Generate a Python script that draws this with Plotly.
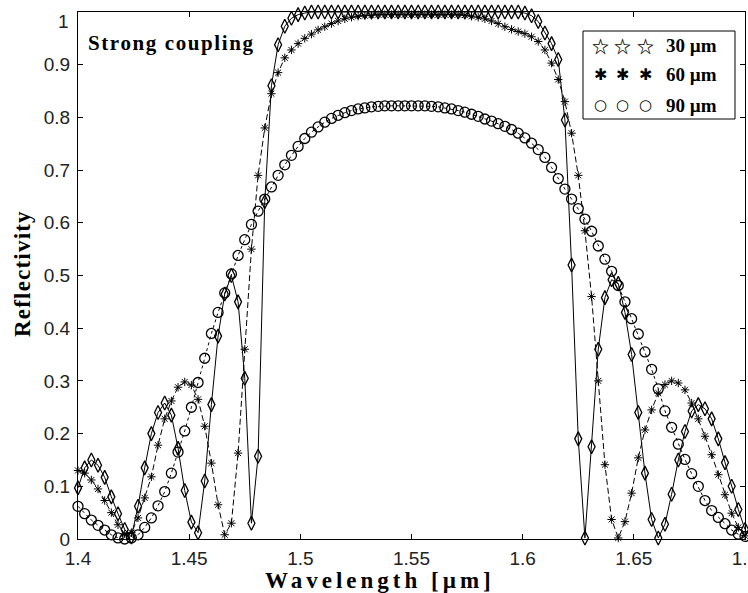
import plotly.graph_objects as go

wavelength = [
    1.400, 1.403, 1.406, 1.409, 1.412, 1.415, 1.418, 1.421, 1.424, 1.427,
    1.430, 1.433, 1.436, 1.439, 1.442, 1.445, 1.448, 1.451, 1.454, 1.457,
    1.460, 1.463, 1.466, 1.469, 1.472, 1.475, 1.478, 1.481, 1.484, 1.487,
    1.490, 1.493, 1.496, 1.499, 1.502, 1.505, 1.508, 1.511, 1.514, 1.517,
    1.520, 1.523, 1.526, 1.529, 1.532, 1.535, 1.538, 1.541, 1.544, 1.547,
    1.550, 1.553, 1.556, 1.559, 1.562, 1.565, 1.568, 1.571, 1.574, 1.577,
    1.580, 1.583, 1.586, 1.589, 1.592, 1.595, 1.598, 1.601, 1.604, 1.607,
    1.610, 1.613, 1.616, 1.619, 1.622, 1.625, 1.628, 1.631, 1.634, 1.637,
    1.640, 1.643, 1.646, 1.649, 1.652, 1.655, 1.658, 1.661, 1.664, 1.667,
    1.670, 1.673, 1.676, 1.679, 1.682, 1.685, 1.688, 1.691, 1.694, 1.697,
    1.700,
]

refl_30um = [
    0.097, 0.135, 0.150, 0.140, 0.117, 0.080, 0.048, 0.018, 0.004, 0.062,
    0.135, 0.200, 0.240, 0.258, 0.235, 0.172, 0.092, 0.032, 0.012, 0.110,
    0.255, 0.385, 0.465, 0.500, 0.450, 0.305, 0.030, 0.157, 0.640, 0.860,
    0.938, 0.973, 0.988, 0.995, 0.998, 1.000, 1.000, 1.000, 1.000, 1.000,
    1.000, 1.000, 1.000, 1.000, 1.000, 1.000, 1.000, 1.000, 1.000, 1.000,
    1.000, 1.000, 1.000, 1.000, 1.000, 1.000, 1.000, 1.000, 1.000, 1.000,
    1.000, 1.000, 1.000, 1.000, 1.000, 1.000, 1.000, 0.998, 0.993, 0.982,
    0.960, 0.940, 0.910, 0.795, 0.520, 0.190, 0.002, 0.175, 0.360, 0.458,
    0.492, 0.485, 0.430, 0.350, 0.240, 0.125, 0.037, 0.002, 0.028, 0.085,
    0.150, 0.204, 0.243, 0.255, 0.247, 0.228, 0.190, 0.145, 0.100, 0.056,
    0.018,
]

refl_60um = [
    0.130, 0.125, 0.112, 0.095, 0.073, 0.050, 0.027, 0.010, 0.012, 0.040,
    0.078, 0.118, 0.178, 0.228, 0.262, 0.288, 0.298, 0.292, 0.265, 0.214,
    0.144, 0.065, 0.008, 0.030, 0.163, 0.360, 0.550, 0.690, 0.780, 0.845,
    0.885, 0.913, 0.928, 0.940, 0.950, 0.958, 0.966, 0.972, 0.978, 0.983,
    0.987, 0.990, 0.992, 0.993, 0.994, 0.995, 0.995, 0.995, 0.995, 0.995,
    0.995, 0.995, 0.995, 0.995, 0.995, 0.995, 0.995, 0.995, 0.994, 0.992,
    0.990, 0.987, 0.983, 0.978, 0.972, 0.967, 0.963, 0.959, 0.953, 0.944,
    0.928, 0.903, 0.872, 0.830, 0.770, 0.690, 0.585, 0.460, 0.300, 0.141,
    0.037, 0.002, 0.033, 0.087, 0.154, 0.207, 0.245, 0.277, 0.293, 0.300,
    0.296, 0.283, 0.258, 0.228, 0.195, 0.160, 0.122, 0.084, 0.049, 0.022,
    0.006,
]

refl_90um = [
    0.062, 0.048, 0.036, 0.026, 0.017, 0.008, 0.002, 0.000, 0.002, 0.008,
    0.022, 0.040, 0.063, 0.090, 0.125, 0.165, 0.205, 0.250, 0.297, 0.343,
    0.390, 0.430, 0.467, 0.503, 0.538, 0.568, 0.597, 0.622, 0.645, 0.668,
    0.690, 0.710, 0.728, 0.745, 0.760, 0.772, 0.782, 0.791, 0.798, 0.804,
    0.809, 0.813, 0.816, 0.818, 0.820, 0.821, 0.822, 0.822, 0.822, 0.822,
    0.822, 0.822, 0.822, 0.821, 0.820, 0.818, 0.816, 0.813, 0.810, 0.806,
    0.802, 0.797, 0.793, 0.788, 0.783, 0.777, 0.770, 0.761, 0.751, 0.739,
    0.724, 0.705, 0.684, 0.664, 0.645, 0.627, 0.607, 0.584, 0.556, 0.531,
    0.508, 0.481, 0.450, 0.418, 0.389, 0.355, 0.322, 0.285, 0.243, 0.212,
    0.180, 0.151, 0.124, 0.100, 0.073, 0.054, 0.041, 0.029, 0.017, 0.009,
    0.005,
]

x_ticks = [1.4, 1.45, 1.5, 1.55, 1.6, 1.65, 1.7]
y_ticks = [0, 0.1, 0.2, 0.3, 0.4, 0.5, 0.6, 0.7, 0.8, 0.9, 1]
y_tick_text = ["0", "0.1", "0.2", "0.3", "0.4", "0.5", "0.6", "0.7", "0.8", "0.9", ""]
top_tick_label = "1"

legend_labels = ["30 \u00b5m", "60 \u00b5m", "90 \u00b5m"]
legend_glyphs = ["\u2606", "\u2731", "\u25cb"]
glyph_fonts = ["Noto Sans CJK SC", "DejaVu Sans", "DejaVu Sans"]

fig = go.Figure()

fig.add_trace(go.Scatter(
    x=wavelength, y=refl_90um, mode="lines+markers", name=legend_labels[2],
    line=dict(color="black", width=1, dash="dot"),
    marker=dict(symbol="circle-open", size=10, color="black", line=dict(width=1.3, color="black")),
    cliponaxis=False,
))
fig.add_trace(go.Scatter(
    x=wavelength, y=refl_60um, mode="lines+markers", name=legend_labels[1],
    line=dict(color="black", width=1, dash="6px,3px"),
    marker=dict(symbol="asterisk-open", size=7, color="black", line=dict(width=1, color="black")),
    cliponaxis=False,
))
fig.add_trace(go.Scatter(
    x=wavelength, y=refl_30um, mode="lines+markers", name=legend_labels[0],
    line=dict(color="black", width=1),
    marker=dict(symbol="diamond-tall-open", size=10, color="black", line=dict(width=1.3, color="black")),
    cliponaxis=False,
))

W, H = 748, 593
L, R, T, B = 78, 3, 12, 54
pw, ph = W - L - R, H - T - B

def px(xp):
    return (xp - L) / pw

def py(yp):
    return (H - B - yp) / ph

serif = "Liberation Serif, Times New Roman, serif"
sans = "Liberation Sans, Arial, sans-serif"
annotations = []
annotations.append(dict(
    text='<b><span style="letter-spacing:1.6px">Strong coupling</span></b>',
    x=px(86), y=py(43), xref="paper", yref="paper",
    xanchor="left", yanchor="middle", showarrow=False,
    font=dict(family=serif, size=21, color="black"),
))
annotations.append(dict(
    text='<b><span style="letter-spacing:4px">Wavelength [\u00b5m]</span></b>',
    x=px(380), y=py(580), xref="paper", yref="paper",
    xanchor="center", yanchor="middle", showarrow=False,
    font=dict(family=serif, size=23, color="black"),
))
annotations.append(dict(
    text='<b><span style="letter-spacing:1.2px">Reflectivity</span></b>',
    x=px(22), y=py(274), xref="paper", yref="paper",
    xanchor="center", yanchor="middle", showarrow=False, textangle=-90,
    font=dict(family=serif, size=23, color="black"),
))
annotations.append(dict(
    text=top_tick_label, x=px(71), y=py(22), xref="paper", yref="paper",
    xanchor="right", yanchor="middle", showarrow=False,
    font=dict(family=sans, size=19, color="#222"),
))
row_y = [45, 75, 105]
glyph_x = [600, 622, 645]
glyph_size = [17, 16, 15]
for i in range(3):
    for gx in glyph_x:
        annotations.append(dict(
            text="<b>" + legend_glyphs[i] + "</b>", x=px(gx), y=py(row_y[i]),
            xref="paper", yref="paper", xanchor="center", yanchor="middle", showarrow=False,
            font=dict(family=glyph_fonts[i], size=glyph_size[i], color="black"),
        ))
    annotations.append(dict(
        text="<b>" + legend_labels[i] + "</b>", x=px(664), y=py(row_y[i]),
        xref="paper", yref="paper", xanchor="left", yanchor="middle", showarrow=False,
        font=dict(family=serif, size=19, color="black"),
    ))

shapes = [dict(
    type="rect", xref="paper", yref="paper",
    x0=px(583), x1=px(735), y0=py(119), y1=py(31),
    line=dict(color="black", width=1), fillcolor="white", layer="above",
)]

axis_common = dict(
    showline=True, linecolor="black", linewidth=1, mirror="ticks",
    ticks="inside", ticklen=5, tickcolor="black", tickwidth=1,
    showgrid=False, zeroline=False, ticklabeloverflow="allow",
    tickfont=dict(family=sans, size=19, color="#222"),
)

fig.update_layout(
    width=W, height=H,
    margin=dict(l=L, r=R, t=T, b=B, autoexpand=False),
    paper_bgcolor="white", plot_bgcolor="white",
    showlegend=False,
    xaxis=dict(range=[1.4, 1.7], tickvals=x_ticks, ticktext=[str(v) for v in x_ticks],
               ticklabelstandoff=2, **axis_common),
    yaxis=dict(range=[0, 1], tickvals=y_ticks, ticktext=y_tick_text,
               ticklabelstandoff=3, **axis_common),
    annotations=annotations,
    shapes=shapes,
)

fig.write_html(
    "out.html",
    config={"displayModeBar": False},
    post_script="document.body.style.margin='0';document.body.style.padding='0';",
)
